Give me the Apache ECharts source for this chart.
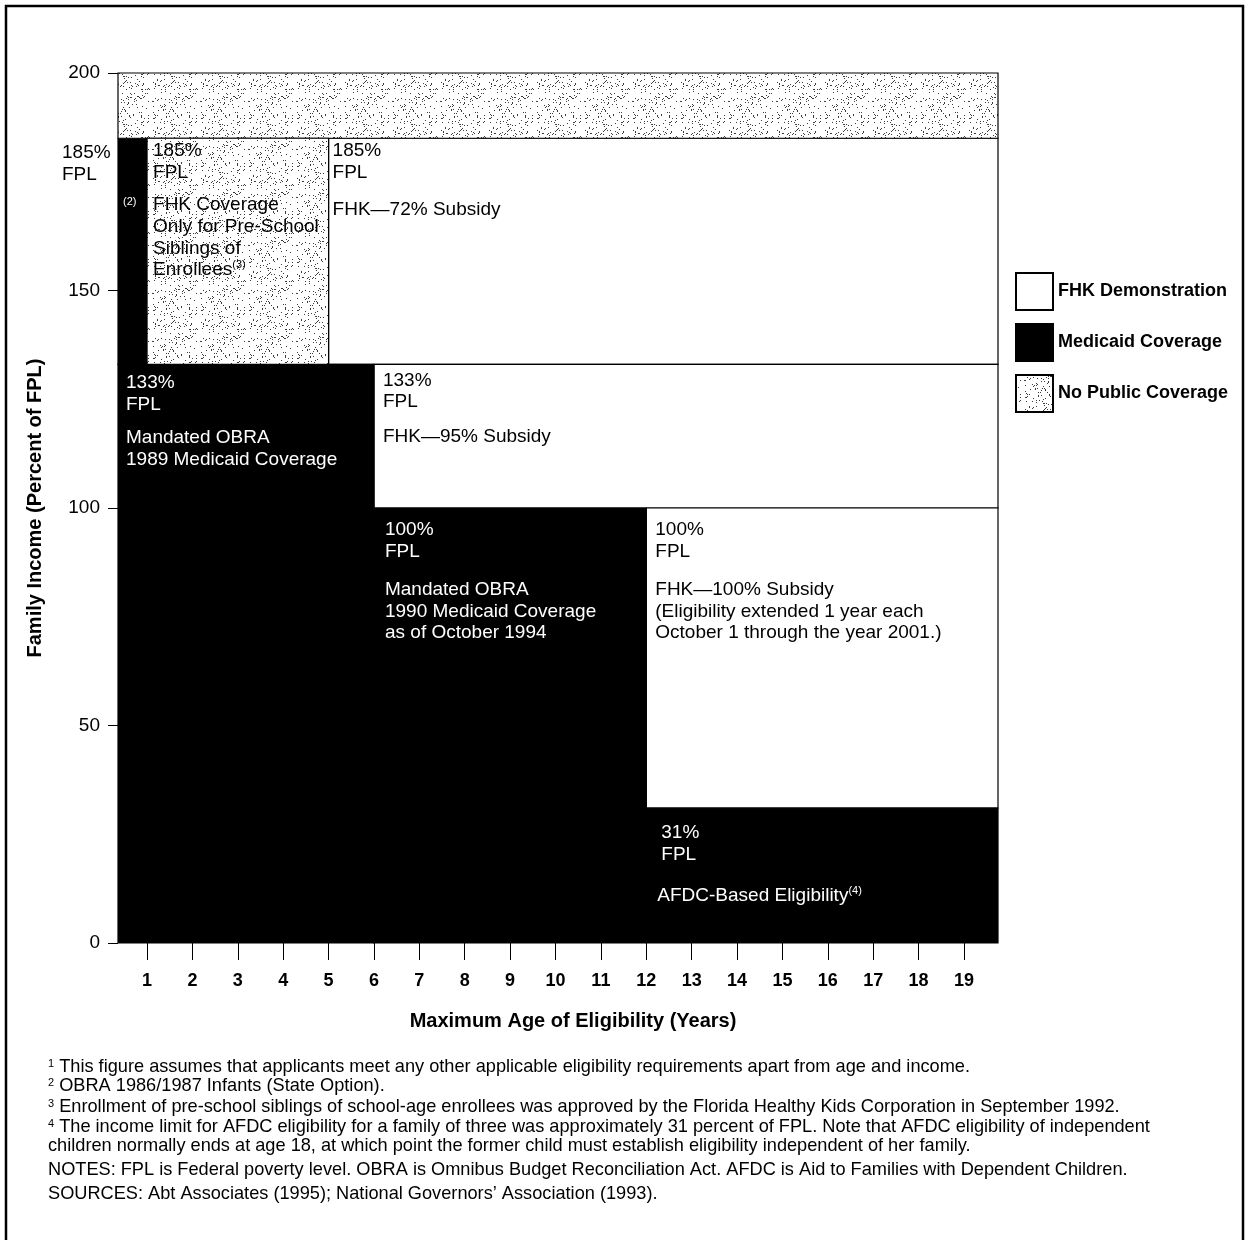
<!DOCTYPE html>
<html>
<head>
<meta charset="utf-8">
<script src="https://cdn.jsdelivr.net/npm/echarts@6/dist/echarts.min.js"></script>
<style>
html,body{margin:0;padding:0;background:#fff;}
#chart{width:1247px;height:1240px;}
</style>
</head>
<body>
<div id="chart"></div>
<script>
// ---------- DATA ----------
const axisMinAge = 0.36;
const axisMaxAge = 19.75;
const ageTicks = [1,2,3,4,5,6,7,8,9,10,11,12,13,14,15,16,17,18,19];
const incomeTicks = [0, 50, 100, 150, 200];

// each region: age from / to, income from / to (percent of FPL), coverage type
const regionAgeFrom  = [0.36, 0.36, 1,    5,     0.36, 6,     6,   12,    12];
const regionAgeTo    = [19.75, 1,   5,    19.75, 6,    19.75, 12,  19.75, 19.75];
const regionIncLow   = [185,  133,  133,  133,   0,    100,   0,   31,    0];
const regionIncHigh  = [200,  185,  185,  185,   133,  133,   100, 100,   31];
const regionType     = ['none','medicaid','none','fhk','medicaid','fhk','medicaid','fhk','medicaid'];

const regionHead = ['', '185%\nFPL', '185%\nFPL', '185%\nFPL', '133%\nFPL', '133%\nFPL', '100%\nFPL', '100%\nFPL', '31%\nFPL'];
const regionBody = [
  '',
  '(2)',
  'FHK Coverage\nOnly for Pre-School\nSiblings of\nEnrollees{sup|(3)}',
  'FHK\u201472% Subsidy',
  'Mandated OBRA\n1989 Medicaid Coverage',
  'FHK\u201495% Subsidy',
  'Mandated OBRA\n1990 Medicaid Coverage\nas of October 1994',
  'FHK\u2014100% Subsidy\n(Eligibility extended 1 year each\nOctober 1 through the year 2001.)',
  'AFDC-Based Eligibility{sup|(4)}'
];

const typeNames = ['FHK Demonstration', 'Medicaid Coverage', 'No Public Coverage'];
const typeKeys  = ['fhk', 'medicaid', 'none'];

const xTitle = 'Maximum Age of Eligibility (Years)';
const yTitle = 'Family Income (Percent of FPL)';
const footnotes = [
  '{s|1} This figure assumes that applicants meet any other applicable eligibility requirements apart from age and income.',
  '{s|2} OBRA 1986/1987 Infants (State Option).',
  '{s|3} Enrollment of pre-school siblings of school-age enrollees was approved by the Florida Healthy Kids Corporation in September 1992.',
  '{s|4} The income limit for AFDC eligibility for a family of three was approximately 31 percent of FPL. Note that AFDC eligibility of independent',
  'children normally ends at age 18, at which point the former child must establish eligibility independent of her family.',
  'NOTES: FPL is Federal poverty level. OBRA is Omnibus Budget Reconciliation Act. AFDC is Aid to Families with Dependent Children.',
  'SOURCES: Abt Associates (1995); National Governors\u2019 Association (1993).'
];

// ---------- STYLE / LAYOUT ----------
const FONT = '"Liberation Sans", Arial, Helvetica, sans-serif';
const headDx = [0, -56, 6, 4, 8, 9, 11, 9, 15];
const headDy = [0, 15, 13, 13, 18.5, 16, 22, 22, 25];
const bodyDx = [0, 5, 6, 4, 8, 9, 11, 9, 11];
const bodyDy = [0, 64, 67, 72, 73.5, 72.5, 82, 82, 88];
const LH = 21.6;
const footY = [1067, 1086, 1107, 1127, 1146, 1170, 1194];

// stipple texture (deterministic hash, purely decorative)
const TILE = 48;
const pc = document.createElement('canvas');
pc.width = TILE; pc.height = TILE;
const pctx = pc.getContext('2d');
pctx.fillStyle = '#ffffff';
pctx.fillRect(0, 0, TILE, TILE);
pctx.fillStyle = '#3c3c3c';
for (let yy = 0; yy < TILE; yy++) {
  for (let xx = 0; xx < TILE; xx++) {
    let h = (xx * 374761393 + yy * 668265263) | 0;
    h = Math.imul(h ^ (h >>> 13), 1274126177);
    h = (h ^ (h >>> 16)) >>> 0;
    if (h % 100 < 7) pctx.fillRect(xx, yy, 1, 1);
  }
}
const stipple = {image: pc, repeat: 'repeat'};

const typeFill = {fhk: '#ffffff', medicaid: '#000000', none: stipple};
const typeText = {fhk: '#000000', medicaid: '#ffffff', none: '#000000'};

function renderFor(key) {
  return function (params, api) {
    const i = api.value(4);
    const tl = api.coord([api.value(0), api.value(3)]);
    const br = api.coord([api.value(1), api.value(2)]);
    const children = [{
      type: 'rect',
      shape: {x: tl[0], y: tl[1], width: br[0] - tl[0], height: br[1] - tl[1]},
      style: {fill: typeFill[key], stroke: '#000', lineWidth: 1.2}
    }];
    if (regionHead[i]) {
      const outside = headDx[i] < 0;
      children.push({
        type: 'text',
        x: tl[0] + headDx[i], y: tl[1] + headDy[i] - LH / 2,
        style: {text: regionHead[i], fill: outside ? '#000' : typeText[key], font: '19px ' + FONT,
                lineHeight: LH, verticalAlign: 'top', align: 'left'}
      });
    }
    if (regionBody[i]) {
      const small = regionBody[i] === '(2)';
      children.push({
        type: 'text',
        x: tl[0] + bodyDx[i], y: tl[1] + bodyDy[i] - LH / 2,
        style: {text: regionBody[i], fill: typeText[key], font: (small ? '11px ' : '19px ') + FONT,
                lineHeight: LH, verticalAlign: 'top', align: 'left',
                rich: {sup: {fontSize: 11, fontFamily: FONT, lineHeight: 12, verticalAlign: 'top', fill: typeText[key]}}}
      });
    }
    return {type: 'group', children: children};
  };
}

const series = typeKeys.map(function (key, k) {
  const data = [];
  for (let i = 0; i < regionType.length; i++) {
    if (regionType[i] === key) data.push([regionAgeFrom[i], regionAgeTo[i], regionIncLow[i], regionIncHigh[i], i]);
  }
  return {
    type: 'custom',
    name: typeNames[k],
    renderItem: renderFor(key),
    itemStyle: {color: typeFill[key], borderColor: '#000', borderWidth: 1.5},
    encode: {x: [0, 1], y: [2, 3]},
    data: data,
    silent: true,
    clip: false
  };
});

const graphics = [
  {type: 'rect', shape: {x: 6, y: 6, width: 1237, height: 1260}, style: {fill: 'none', stroke: '#000', lineWidth: 2.5}, silent: true},
  {type: 'text', x: 573, y: 1021, style: {text: xTitle, font: 'bold 20px ' + FONT, fill: '#000', align: 'center', verticalAlign: 'middle'}},
  {type: 'text', x: 35, y: 508, rotation: Math.PI / 2, style: {text: yTitle, font: 'bold 20px ' + FONT, fill: '#000', align: 'center', verticalAlign: 'middle'}}
];
footnotes.forEach(function (t, j) {
  graphics.push({type: 'text', x: 48, y: footY[j], style: {
    text: t, font: '18.2px ' + FONT, fill: '#000', align: 'left', verticalAlign: 'middle',
    rich: {s: {fontSize: 11, fontFamily: FONT, verticalAlign: 'top', lineHeight: 15}}
  }});
});

const chart = echarts.init(document.getElementById('chart'), null, {renderer: 'canvas'});
chart.setOption({
  animation: false,
  backgroundColor: '#ffffff',
  grid: {left: 118, right: 249, top: 73, bottom: 297, containLabel: false},
  xAxis: {
    type: 'value', min: axisMinAge, max: axisMaxAge,
    axisLine: {show: false},
    splitLine: {show: false},
    axisTick: {show: true, length: 17, customValues: ageTicks, lineStyle: {color: '#000', width: 1}},
    axisLabel: {customValues: ageTicks, margin: 29, color: '#000', fontFamily: FONT, fontSize: 18, fontWeight: 'bold'}
  },
  yAxis: {
    type: 'value', min: 0, max: 200,
    axisLine: {show: false},
    splitLine: {show: false},
    axisTick: {show: true, length: 10, customValues: incomeTicks, lineStyle: {color: '#000', width: 1}},
    axisLabel: {customValues: incomeTicks, margin: 18, color: '#000', fontFamily: FONT, fontSize: 19}
  },
  legend: {
    orient: 'vertical', left: 1015, top: 272, itemWidth: 37, itemHeight: 37, itemGap: 12,
    icon: 'rect', selectedMode: false, padding: 0,
    data: typeNames,
    textStyle: {color: '#000', fontFamily: FONT, fontSize: 18, fontWeight: 'bold'}
  },
  series: series,
  graphic: graphics
});
</script>
</body>
</html>
